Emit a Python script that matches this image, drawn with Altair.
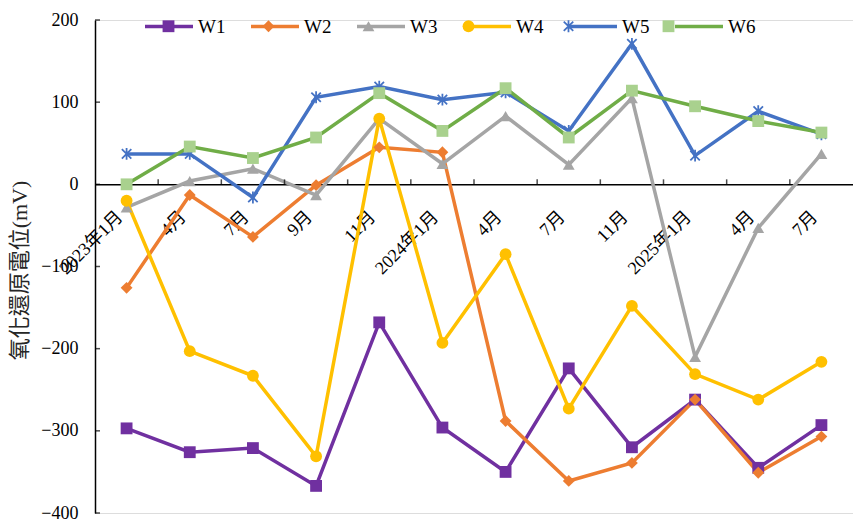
import json

import altair as alt
import pandas as pd

# Sampling dates (category labels on the x axis)
months = ["2023年1月", "4月", "7月", "9月", "11月", "2024年1月",
          "4月", "7月", "11月", "2025年1月", "4月", "7月"]

series_names = ["W1", "W2", "W3", "W4", "W5", "W6"]

# Redox potential per well (mV)
w1 = [-297, -326, -321, -367, -168, -296, -350, -224, -320, -262, -345, -293]
w2 = [-126, -13, -64, -1, 45, 39, -288, -361, -339, -262, -351, -307]
w3 = [-28, 4, 19, -13, 80, 25, 83, 24, 105, -210, -53, 37]
w4 = [-20, -203, -233, -331, 80, -193, -85, -273, -148, -231, -262, -216]
w5 = [37, 37, -16, 106, 119, 103, 112, 65, 171, 35, 89, 61]
w6 = [0, 46, 32, 57, 111, 65, 117, 57, 114, 95, 77, 63]

y_ticks = [-400, -300, -200, -100, 0, 100, 200]

line_colors = ["#7030A0", "#ED7D31", "#A5A5A5", "#FFC000", "#4472C4", "#70AD47"]
marker_colors = ["#7030A0", "#ED7D31", "#A5A5A5", "#FFC000", "#4472C4", "#A9D18E"]
asterisk = ("M-0.15,-1H0.15V1H-0.15Z"
            "M-0.906,-0.694L-0.694,-0.906L0.906,0.694L0.694,0.906Z"
            "M0.694,-0.906L0.906,-0.694L-0.694,0.906L-0.906,0.694Z")
marker_shapes = ["square", "diamond", "triangle-up", "circle", asterisk, "square"]

rows = []
for name, vals in zip(series_names, [w1, w2, w3, w4, w5, w6]):
    for i, v in enumerate(vals):
        rows.append({"idx": i, "value": v, "series": name, "marker": name})
df = pd.DataFrame(rows)

# category boundaries (inner tick marks on the zero line) and value ticks
x_tick_df = pd.DataFrame({"idx": list(range(1, len(months)))})
y_tick_df = pd.DataFrame({"v": y_ticks})

W, H = 758, 493
FONT = "Liberation Serif, Noto Sans CJK TC"
label_expr = json.dumps(months, ensure_ascii=False) + "[datum.value]"

x_scale = alt.Scale(type="band", paddingInner=0, paddingOuter=0)
y_scale = alt.Scale(domain=[-400, 200], nice=False, zero=False)

# Legend: a line legend (with names) overlaid by a marker-only legend
LEG_X = 48
line_legend = alt.Legend(
    orient="none", legendX=LEG_X, legendY=-19.5, direction="horizontal",
    title=None, symbolType="stroke", symbolSize=2304, symbolStrokeWidth=3.5,
    labelFont=FONT, labelFontSize=19, labelColor="black", labelOffset=3,
    columnPadding=18, padding=0, zindex=0,
)
marker_legend = alt.Legend(
    orient="none", legendX=LEG_X, legendY=-3.5, direction="horizontal",
    title=None, symbolSize=140, symbolStrokeWidth=0, symbolOffset=16,
    labelFont=FONT, labelFontSize=19, labelExpr="''", labelOffset=46.4,
    columnPadding=18, padding=0, zindex=1,
)

base = alt.Chart(df)

lines = base.mark_line(strokeWidth=3.5).encode(
    x=alt.X("idx:O", scale=x_scale, axis=alt.Axis(
        orient="bottom", offset=-(H * 2 / 3), title=None, labelExpr=label_expr,
        labelAngle=315, labelAlign="right", labelBaseline="bottom", labelPadding=36,
        ticks=False, tickSize=0, domainColor="black", domainWidth=1.5,
        labelFont=FONT, labelFontSize=18, labelColor="black", grid=False)),
    y=alt.Y("value:Q", scale=y_scale, axis=alt.Axis(
        orient="left", values=y_ticks, title="氧化還原電位(mV)", ticks=False, tickSize=0,
        labelPadding=17, domainColor="black", domainWidth=1.5, grid=False,
        labelFont=FONT, labelFontSize=18, labelColor="black",
        titleFont=FONT, titleFontSize=22, titleFontWeight="normal", titleColor="#262626",
        titleAngle=270, titleX=-76, titleY=250, titleAlign="center", titleBaseline="middle")),
    stroke=alt.Stroke("series:N", scale=alt.Scale(domain=series_names, range=line_colors),
                      legend=line_legend),
)

points = base.mark_point(filled=True, opacity=1, size=140, strokeWidth=0).encode(
    x=alt.X("idx:O", scale=x_scale, axis=None),
    y=alt.Y("value:Q", scale=y_scale, axis=None),
    fill=alt.Fill("marker:N", scale=alt.Scale(range=marker_colors), legend=marker_legend),
    shape=alt.Shape("marker:N", scale=alt.Scale(range=marker_shapes), legend=marker_legend),
)

# short tick marks pointing up from the zero line, between categories
x_ticks = alt.Chart(x_tick_df).mark_tick(
    orient="vertical", size=5, thickness=1.5, color="black", yOffset=-2.5
).encode(
    x=alt.X("idx:O", scale=x_scale, bandPosition=0, axis=None),
    y=alt.YDatum(0, scale=y_scale, axis=None),
)

# short tick marks pointing right from the value axis
y_tick_marks = alt.Chart(y_tick_df).mark_tick(
    orient="horizontal", size=5, thickness=1.5, color="black", xOffset=2.5
).encode(
    x=alt.value(0),
    y=alt.Y("v:Q", scale=y_scale, axis=None),
)

chart = (
    alt.layer(lines, points, x_ticks, y_tick_marks)
    .resolve_axis(x="independent", y="independent")
    .properties(width=W, height=H, autosize="none",
                padding={"left": 95, "top": 20, "right": 0, "bottom": 12})
    .configure_view(stroke=None)
    .configure(background="white")
)

chart.save("out.html", embed_options={"renderer": "svg", "actions": False})
